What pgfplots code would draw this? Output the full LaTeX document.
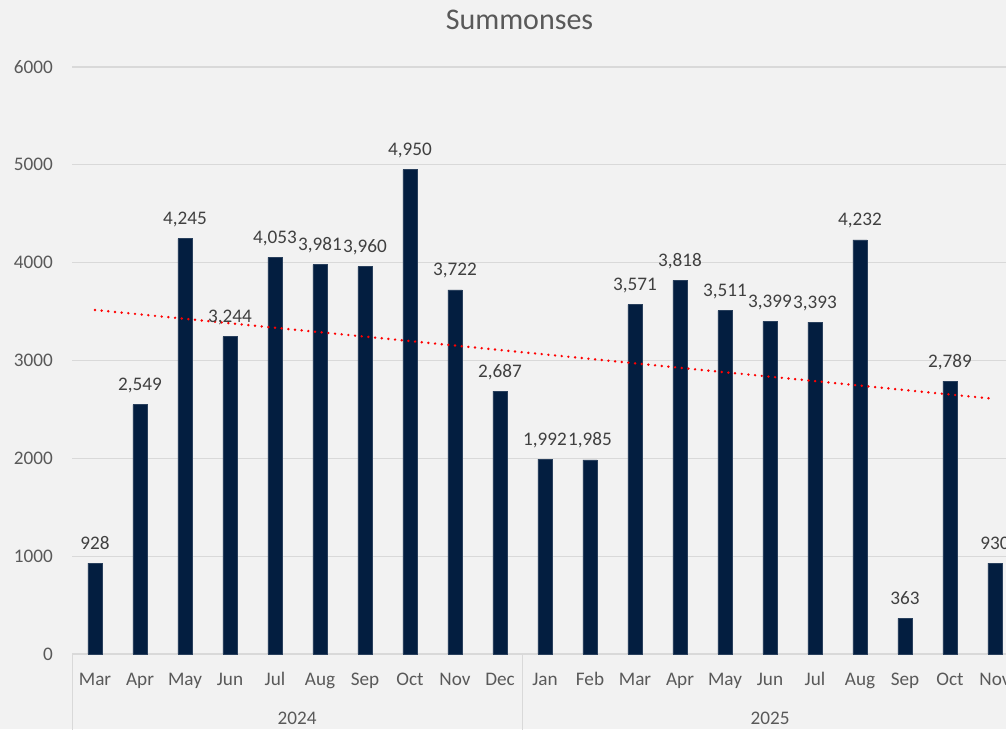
\documentclass[border=0pt]{standalone}
\usepackage{pgfplots}
\usepackage{pgfplotstable}
\pgfplotsset{compat=1.18}
\usepackage{fontspec}
\setmainfont{Carlito}
\definecolor{bgc}{HTML}{F2F2F2}
\definecolor{gridc}{HTML}{D9D9D9}
\definecolor{txt}{HTML}{595959}
\definecolor{lbl}{HTML}{404040}
\definecolor{navy}{RGB}{3,30,64}

\pgfplotstableread{
x y
0 928
1 2549
2 4245
3 3244
4 4053
5 3981
6 3960
7 4950
8 3722
9 2687
10 1992
11 1985
12 3571
13 3818
14 3511
15 3399
16 3393
17 4232
18 363
19 2789
20 930
}\data

\begin{document}
\begin{tikzpicture}
\path[use as bounding box] (0,0) rectangle (503pt,364.5pt);
\fill[bgc] (0,0) rectangle (503pt,364.5pt);
\clip (0,0) rectangle (503pt,364.5pt);
\node[anchor=base, text=txt, font=\fontsize{15}{18}\selectfont, inner sep=0pt] at (259.75pt,349.5pt) {Summonses};
\begin{axis}[
  at={(36.25pt,37.5pt)}, anchor=south west,
  scale only axis, width=472.5pt, height=293.5pt,
  xmin=-0.5, xmax=20.5, ymin=0, ymax=6000,
  clip=false,
  axis line style={draw=none},
  major tick length=0pt,
  tick style={draw=none},
  /pgf/number format/assume math mode=true,
  ytick={0,1000,...,6000},
  scaled y ticks=false,
  ymajorgrids,
  grid style={gridc, line width=0.65pt},
  yticklabel style={anchor=east, inner sep=0pt, xshift=-9.6pt, text=txt,
    font=\fontsize{9.6}{11.5}\selectfont, /pgf/number format/1000 sep={}},
  xtick={0,...,20},
  xticklabels={Mar,Apr,May,Jun,Jul,Aug,Sep,Oct,Nov,Dec,Jan,Feb,Mar,Apr,May,Jun,Jul,Aug,Sep,Oct,Nov},
  xticklabel style={anchor=base, inner sep=0pt, yshift=-15.85pt, text=txt,
    font=\fontsize{9.6}{11.5}\selectfont},
]
\addplot[ybar, bar width=7.15pt, fill=navy, draw=navy!85!white, line width=0.3pt,
  nodes near coords={\pgfmathprintnumber[fixed,precision=0,1000 sep={,}]{\pgfplotspointmeta}},
  nodes near coords style={anchor=base, inner sep=0pt, yshift=7pt, text=lbl,
    font=\fontsize{9.6}{11.5}\selectfont}]
  table[x=x, y=y] {\data};
\addplot[red, line width=1.35pt, line cap=round, dash pattern=on 0pt off 3.35pt, no marks]
  table[x=x, y={create col/linear regression={y=y}}] {\data};
\draw[gridc, line width=0.65pt] (axis cs:-0.5,0) -- ++(0pt,-45pt);
\draw[gridc, line width=0.65pt] (axis cs:9.5,0) -- ++(0pt,-45pt);
\node[anchor=base, inner sep=0pt, yshift=-35.15pt, text=txt, font=\fontsize{9.6}{11.5}\selectfont] at (axis cs:4.49,0) {2024};
\node[anchor=base, inner sep=0pt, yshift=-35.15pt, text=txt, font=\fontsize{9.6}{11.5}\selectfont] at (axis cs:15,0) {2025};
\end{axis}
\end{tikzpicture}
\end{document}
